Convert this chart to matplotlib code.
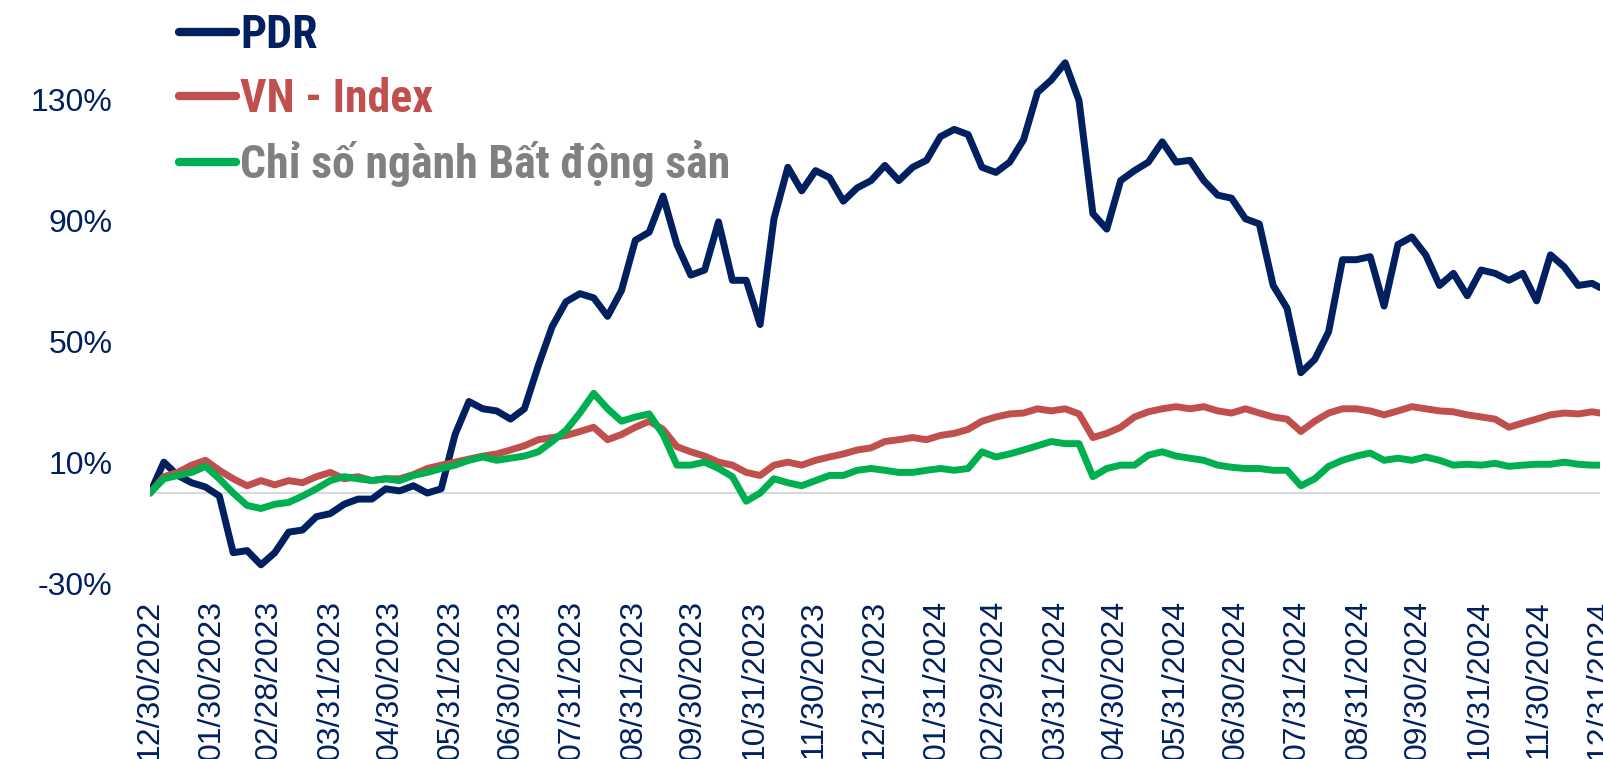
import matplotlib
matplotlib.use("Agg")
from matplotlib import pyplot as plt
from matplotlib import font_manager
import pandas as pd

# weekly closes, cumulative return in % since 12/30/2022
dates = list(pd.date_range("2022-12-30", periods=105, freq="7D")) + [pd.Timestamp("2024-12-31")]

pdr = [0, 10.2, 5.8, 3.4, 2.0, -1.0, -19.7, -19.0, -23.7, -19.7,
       -12.9, -12.2, -7.8, -6.8, -3.7, -2.0, -2.0, 1.4, 0.7, 2.4,
       0, 1.4, 19.3, 30.2, 27.8, 27.1, 24.4, 27.8, 42.0, 54.9,
       63.1, 65.8, 64.4, 58.3, 66.8, 83.4, 86.1, 98.0, 82.0, 71.9,
       73.6, 89.5, 70.2, 70.2, 55.6, 90.5, 107.5, 99.7, 106.4, 104.1,
       96.3, 100.7, 103.1, 108.1, 103.1, 107.5, 109.8, 117.6, 120.0, 118.3,
       107.5, 105.8, 109.2, 116.6, 132.2, 136.3, 142.0, 129.5, 92.2, 87.1,
       103.1, 106.4, 109.2, 115.9, 109.2, 109.8, 103.1, 98.3, 97.3, 90.5,
       88.8, 68.5, 61.0, 39.7, 44.1, 53.2, 77.0, 77.0, 78.0, 61.7,
       82.0, 84.5, 78.6, 68.5, 72.5, 65.1, 73.6, 72.5, 70.2, 72.5,
       63.4, 78.6, 74.6, 68.5, 69.2, 67.8]

vnindex = [0, 5.4, 6.8, 9.2, 10.8, 7.5, 4.7, 2.4, 4.1, 2.7,
           4.1, 3.4, 5.4, 6.8, 4.7, 5.4, 4.1, 4.7, 4.7, 6.1,
           8.1, 9.2, 10.2, 11.2, 12.2, 12.9, 14.2, 15.6, 17.6, 18.3,
           19.0, 20.3, 21.7, 17.6, 19.3, 21.7, 23.7, 21.0, 15.3, 13.6,
           12.2, 10.2, 9.2, 6.8, 5.8, 9.2, 10.2, 9.2, 10.8, 11.9,
           12.9, 14.2, 14.9, 17.0, 17.6, 18.3, 17.6, 19.0, 19.7, 21.0,
           23.7, 25.1, 26.1, 26.4, 27.8, 27.1, 27.8, 26.1, 18.3, 19.7,
           21.7, 25.1, 26.8, 27.8, 28.5, 27.8, 28.5, 27.1, 26.4, 27.8,
           26.4, 25.1, 24.4, 20.3, 23.7, 26.4, 27.8, 27.8, 27.1, 25.8,
           27.1, 28.5, 27.8, 27.1, 26.8, 25.8, 25.1, 24.4, 21.7, 23.1,
           24.4, 25.8, 26.4, 26.1, 26.8, 26.4]

realestate = [0, 4.7, 5.8, 6.8, 8.8, 4.7, 0, -4.1, -5.1, -3.7,
              -3.1, -1.0, 1.4, 4.1, 5.4, 4.7, 4.1, 4.7, 4.1, 5.8,
              6.8, 8.1, 9.2, 10.8, 11.9, 10.8, 11.5, 12.2, 13.6, 17.0,
              20.7, 26.4, 32.9, 27.8, 23.7, 25.1, 26.1, 19.3, 9.2, 9.2,
              10.2, 8.1, 5.4, -2.7, 0, 4.7, 3.4, 2.4, 4.1, 5.8,
              5.8, 7.5, 8.1, 7.5, 6.8, 6.8, 7.5, 8.1, 7.5, 8.1,
              13.6, 11.9, 12.9, 14.2, 15.6, 17.0, 16.3, 16.3, 5.4, 8.1,
              9.2, 9.2, 12.5, 13.6, 12.2, 11.5, 10.8, 9.2, 8.5, 8.1,
              8.1, 7.5, 7.5, 2.4, 4.7, 8.8, 10.8, 12.2, 13.2, 10.8,
              11.5, 10.8, 11.9, 10.8, 9.2, 9.5, 9.2, 9.8, 8.8, 9.2,
              9.5, 9.5, 10.2, 9.5, 9.2, 9.2]

series_names = ["PDR", "VN - Index", "Chỉ số ngành Bất động sản"]
line_colors = ["#002060", "#C0504D", "#00B050"]
text_colors = ["#002060", "#C0504D", "#808080"]

tick_labels = ["12/30/2022", "01/30/2023", "02/28/2023", "03/31/2023", "04/30/2023",
               "05/31/2023", "06/30/2023", "07/31/2023", "08/31/2023", "09/30/2023",
               "10/31/2023", "11/30/2023", "12/31/2023", "01/31/2024", "02/29/2024",
               "03/31/2024", "04/30/2024", "05/31/2024", "06/30/2024", "07/31/2024",
               "08/31/2024", "09/30/2024", "10/31/2024", "11/30/2024", "12/31/2024"]
y_ticks = [-30, 10, 50, 90, 130]

# pick a condensed font for the legend if there is one
names = {f.name for f in font_manager.fontManager.ttflist}
legend_font = next((n for n in ["Liberation Sans Narrow", "Roboto Condensed"] if n in names),
                   "Liberation Sans")

W, H = 1603, 759
fig = plt.figure(figsize=(W / 100, H / 100), dpi=100)
ax = fig.add_axes([150 / W, (H - 600) / H, (1600 - 150) / W, 600 / H])

for vals, name, col in zip([pdr, vnindex, realestate], series_names, line_colors):
    ax.plot(dates, vals, color=col, lw=5, label=name,
            solid_capstyle="round", solid_joinstyle="round")

ax.axhline(0, color="#d9d9d9", lw=1.5, zorder=0)

ax.set_xlim(dates[0], dates[-1])
ax.set_ylim(-35.3, 162.7)
ax.set_yticks(y_ticks)
ax.set_yticklabels([f"{v}%" for v in y_ticks])
tick_dates = pd.to_datetime(tick_labels, format="%m/%d/%Y")
ax.set_xticks(tick_dates)
ax.set_xticklabels(tick_labels, rotation=90, va="top", ha="center")

for s in ax.spines.values():
    s.set_visible(False)
ax.tick_params(axis="both", length=0, colors="#002060")
ax.tick_params(axis="y", pad=27, labelsize=23)
ax.tick_params(axis="x", pad=0, labelsize=23)
for lbl in ax.get_xticklabels() + ax.get_yticklabels():
    lbl.set_fontfamily("Liberation Sans")

leg = ax.legend(loc="upper left", bbox_to_anchor=(179 / W, 1 - 13 / H),
                bbox_transform=fig.transFigure, frameon=False,
                prop={"family": legend_font, "weight": "bold", "size": 33},
                handlelength=1.25, handletextpad=0.08, labelspacing=0.43,
                borderpad=0, borderaxespad=0)
for txt, col in zip(leg.get_texts(), text_colors):
    txt.set_color(col)
for h in leg.get_lines():
    h.set_linewidth(6)

fig.savefig("out.png", dpi=100)
